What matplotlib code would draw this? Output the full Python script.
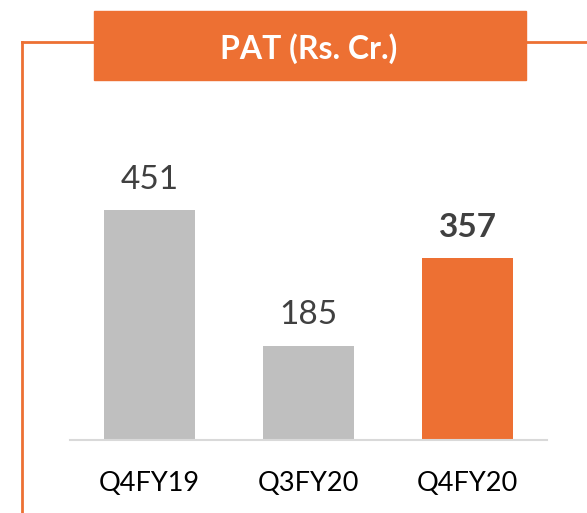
import matplotlib.pyplot as plt
from matplotlib.patches import Rectangle
from matplotlib.lines import Line2D

# data
quarters = ["Q4FY19", "Q3FY20", "Q4FY20"]
pat = [451, 185, 357]
bar_colors = ["#BFBFBF", "#BFBFBF", "#ED7033"]
bold_label = [False, False, True]

orange = "#ED7033"
W, H = 587, 513

plt.rcParams["font.family"] = ["Lato", "DejaVu Sans"]

fig = plt.figure(figsize=(W / 100, H / 100), dpi=100)

# frame line + title box (figure pixel coords converted to fractions)
def fx(x):
    return x / W

def fy(y):
    return 1 - y / H

fig.add_artist(Line2D([fx(22), fx(22)], [fy(42), fy(513)], color=orange, lw=2))
fig.add_artist(Line2D([fx(22), fx(95)], [fy(42), fy(42)], color=orange, lw=2))
fig.add_artist(Line2D([fx(525), fx(587)], [fy(42), fy(42)], color=orange, lw=2))
fig.add_artist(Rectangle((fx(94), fy(80)), fx(526) - fx(94), fy(11) - fy(80),
                         color=orange, transform=fig.transFigure))
fig.text(fx(309), fy(59), "PAT (Rs. Cr.)", color="white", fontsize=23,
         fontweight="bold", ha="center", va="baseline")

# axes: x from 70 to 547 px, baseline at y=440
ymax = 600
px_per_unit = 230 / 451
ax_h = ymax * px_per_unit
ax = fig.add_axes([fx(70), fy(440), fx(547) - fx(70), ax_h / H])

x = range(len(quarters))
bars = ax.bar(x, pat, width=0.57, color=bar_colors)
ax.set_xlim(-0.5, len(quarters) - 0.5)
ax.set_ylim(0, ymax)

for xi, v, b in zip(x, pat, bold_label):
    ax.text(xi, v + 42, str(v), ha="center", va="baseline", fontsize=24,
            color="#404040", fontweight="bold" if b else "normal")

ax.set_xticks(list(x))
ax.set_xticklabels(quarters, fontsize=19.5, color="black")
ax.tick_params(axis="x", length=0, pad=22)
ax.set_yticks([])
for s in ["top", "right", "left"]:
    ax.spines[s].set_visible(False)
ax.spines["bottom"].set_color("#D9D9D9")
ax.spines["bottom"].set_linewidth(1.5)

fig.savefig("out.png", dpi=100)
